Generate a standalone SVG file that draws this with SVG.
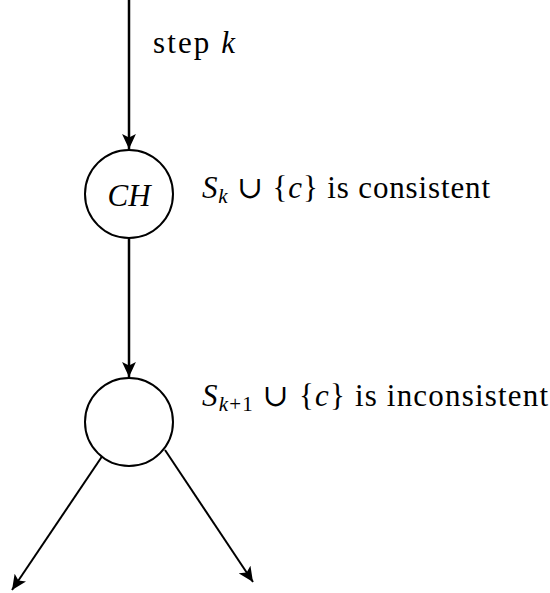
<svg xmlns="http://www.w3.org/2000/svg" width="550" height="593" viewBox="0 0 550 593">
<style>
.t{font-family:"Liberation Serif","DejaVu Serif",serif;font-size:31px;fill:#000}
.i{font-style:italic}
.s{font-size:21px}
.c{fill:#fff;stroke:#000;stroke-width:2}
.e{stroke:#000;fill:none}
</style>
<defs>
<marker id="ah" markerUnits="userSpaceOnUse" markerWidth="15" markerHeight="15" refX="13" refY="6" orient="auto" viewBox="0 0 13 12">
<path d="M0,0 L13,6 L0,12 L3,6 z" fill="#000"/>
</marker>
</defs>
<g id="connectors">
<line class="e" x1="129" y1="0" x2="129" y2="149" stroke-width="2.5" marker-end="url(#ah)"/>
<line class="e" x1="129" y1="239" x2="129" y2="377" stroke-width="2.5" marker-end="url(#ah)"/>
<line class="e" x1="105" y1="452" x2="12" y2="590" stroke-width="2" marker-end="url(#ah)"/>
<line class="e" x1="165" y1="450" x2="253" y2="582" stroke-width="2" marker-end="url(#ah)"/>
</g>
<g id="label-step">
<text class="t" x="153" y="53" textLength="82">step <tspan class="i">k</tspan></text>
</g>
<g id="node-ch">
<circle class="c" cx="129" cy="194" r="44"/>
<text class="t i" x="129" y="206" text-anchor="middle" font-size="33">CH</text>
</g>
<g id="label-consistent">
<text class="t" x="202" y="198" textLength="288"><tspan class="i">S</tspan><tspan class="i s" dy="5">k</tspan><tspan dy="-5"> ∪ {</tspan><tspan class="i">c</tspan>} is consistent</text>
</g>
<g id="node-2">
<circle class="c" cx="129" cy="422" r="44"/>
</g>
<g id="label-inconsistent">
<text class="t" x="202" y="406" textLength="346"><tspan class="i">S</tspan><tspan class="s" dy="5"><tspan class="i">k</tspan>+1</tspan><tspan dy="-5"> ∪ {</tspan><tspan class="i">c</tspan>} is inconsistent</text>
</g>
</svg>
